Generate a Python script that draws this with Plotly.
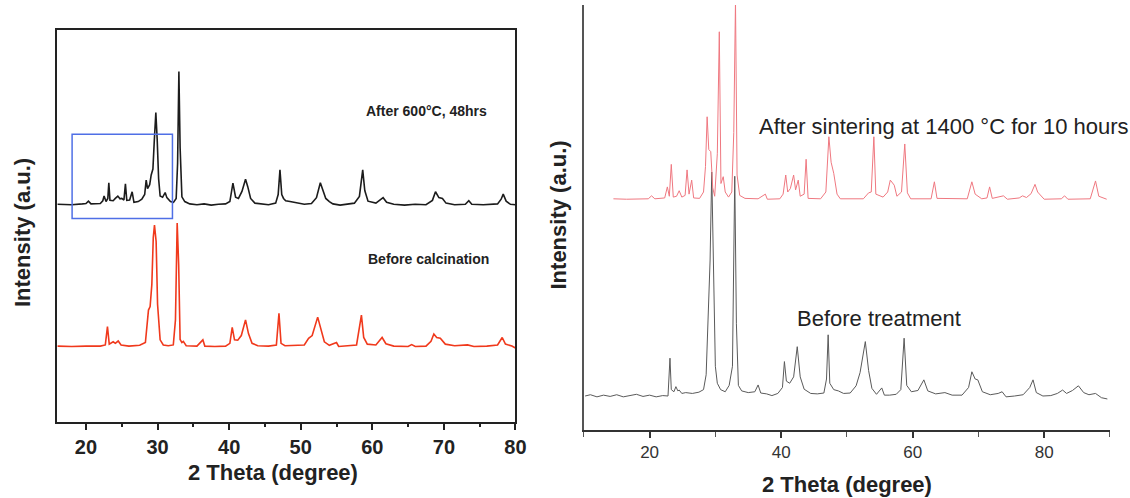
import plotly.graph_objects as go

# ---------------- Left panel: After 600 °C, 48 hrs (black) ----------------
left_black_x = [16.0, 18.0, 19.5, 20.0, 20.34, 20.7, 22.0, 22.35, 22.53, 22.8, 23.05, 23.19, 23.35, 23.8, 24.1,
                24.45, 24.75, 25.0, 25.3, 25.51, 25.7, 26.1, 26.45, 26.7, 27.3, 27.8, 28.2, 28.41, 28.6, 28.9,
                29.11, 29.35, 29.55, 29.76, 29.95, 30.15, 30.36, 30.7, 31.06, 31.3, 31.8, 32.22, 32.6, 32.8,
                32.98, 33.15, 33.4, 33.8, 34.5, 35.5, 36.5, 37.5, 38.5, 39.5, 40.1, 40.53, 40.9, 41.3, 41.79,
                42.29, 42.6, 43.0, 43.6, 44.5, 45.5, 46.5, 46.85, 47.1, 47.35, 47.6, 47.9, 48.5, 49.5, 50.5,
                51.5, 52.2, 52.74, 53.1, 53.5, 54.0, 54.5, 55.5, 56.5, 57.5, 58.2, 58.66, 58.95, 59.4, 60.5,
                61.1, 61.51, 62.0, 63.0, 64.5, 66.0, 67.5, 68.4, 68.83, 69.3, 69.8, 70.3, 71.5, 73.0, 73.48,
                73.9, 75.5, 77.5, 78.0, 78.29, 78.7, 79.3, 80.0]
left_black_y = [55.5, 55.4, 55.6, 55.7, 56.3, 55.6, 55.7, 56.4, 57.6, 56.2, 57.0, 61.0, 56.5, 56.4, 57.0,
                57.6, 56.9, 57.0, 56.6, 60.7, 56.5, 56.6, 58.7, 56.0, 56.2, 56.8, 58.0, 61.7, 59.5, 60.5,
                63.0, 64.5, 72.0, 78.9, 72.0, 62.0, 57.6, 57.3, 58.5, 57.2, 56.2, 56.0, 57.0, 66.0,
                89.4, 70.0, 57.4, 56.2, 55.6, 55.4, 55.6, 55.3, 55.5, 55.6, 56.2, 60.9, 57.3, 57.0, 58.8,
                61.9, 60.0, 57.0, 55.8, 55.6, 55.4, 55.8, 58.0, 64.3, 58.0, 57.0, 56.4, 56.2, 55.8, 55.5,
                55.7, 57.2, 61.0, 59.2, 57.0, 56.2, 55.6, 55.3, 55.5, 55.8, 57.5, 64.3, 59.0, 56.3, 55.8,
                56.6, 57.2, 56.0, 55.5, 55.3, 55.5, 55.4, 56.5, 58.7, 57.2, 57.0, 55.8, 55.4, 55.5, 56.4,
                55.5, 55.4, 55.6, 56.8, 58.1, 56.3, 55.5, 55.4]

# ---------------- Left panel: Before calcination (red) ----------------
left_red_x = [16.0, 18.0, 20.0, 22.0, 22.7, 23.0, 23.25, 23.8, 24.1, 24.5, 24.9, 26.0, 27.5, 28.3, 28.73,
              28.96, 29.2, 29.4, 29.57, 29.8, 30.0, 30.36, 30.8, 31.5, 32.2, 32.5, 32.74, 32.95, 33.15,
              33.4, 33.6, 34.0, 35.5, 36.33, 36.6, 38.0, 39.5, 40.1, 40.43, 40.75, 41.2, 41.7, 42.29, 42.7,
              43.2, 44.0, 45.5, 46.6, 46.96, 47.25, 47.8, 49.0, 50.5, 51.1, 51.6, 52.37, 52.8, 53.3, 54.0,
              55.0, 55.3, 56.5, 57.8, 58.48, 58.8, 59.3, 60.5, 61.37, 61.9, 63.0, 65.0, 65.5, 66.0, 67.5,
              68.2, 68.6, 69.0, 69.5, 70.2, 71.5, 73.3, 74.2, 76.0, 77.5, 78.15, 78.6, 79.5, 80.0]
left_red_y = [19.3, 19.2, 19.3, 19.3, 19.6, 24.3, 19.8, 20.4, 20.0, 20.6, 19.6, 19.3, 19.5, 20.2, 28.5,
              29.4, 35.0, 47.0, 50.2, 46.0, 30.0, 20.9, 19.6, 19.4, 19.6, 26.0, 50.7, 40.0, 21.0,
              20.2, 20.5, 19.4, 19.3, 20.9, 19.3, 19.2, 19.3, 20.0, 24.1, 20.9, 20.8, 22.0, 26.0, 22.5,
              20.0, 19.4, 19.3, 19.6, 27.7, 20.0, 19.4, 19.5, 19.6, 21.3, 22.0, 26.7, 23.5, 20.4, 19.5,
              20.2, 19.2, 19.3, 19.6, 27.2, 21.5, 19.8, 19.6, 21.5, 19.9, 19.3, 19.2, 19.7, 19.2, 19.3,
              20.5, 22.4, 21.5, 21.3, 19.8, 19.4, 19.6, 19.2, 19.3, 19.6, 21.5, 19.8, 19.3, 18.8]

# ---------------- Right panel: After sintering (red) ----------------
right_red_x = [14.5, 16.5, 19.8, 20.3, 20.8, 22.3, 22.7, 23.0, 23.3, 23.6, 24.1, 24.5, 24.9, 25.4, 25.7,
               26.0, 26.4, 26.7, 27.6, 28.2, 28.5, 28.75, 29.0, 29.3, 29.6, 29.9, 30.3, 30.6, 30.85, 31.2,
               31.5, 32.0, 32.5, 32.8, 33.06, 33.3, 33.7, 34.5, 36.5, 37.6, 37.9, 39.8, 40.3, 40.7, 41.0,
               41.4, 41.9, 42.2, 42.6, 42.9, 43.5, 43.8, 44.1, 46.0, 46.8, 47.26, 47.6, 48.0, 48.5, 49.0,
               52.5, 53.3, 53.7, 54.1, 54.4, 55.5, 56.2, 56.6, 57.2, 57.6, 58.3, 58.8, 59.2, 59.7, 62.8,
               63.3, 63.7, 68.3, 69.0, 69.5, 70.5, 71.3, 71.7, 72.1, 73.8, 74.4, 76.2, 76.7, 77.3, 78.0,
               78.6, 79.0, 79.4, 80.0, 82.6, 83.1, 83.6, 87.0, 87.8, 88.3, 89.5]
right_red_y = [54.4, 54.3, 54.4, 55.1, 54.4, 54.6, 57.2, 55.0, 62.5, 54.8, 55.0, 56.3, 54.8, 55.2, 61.2,
               55.5, 58.8, 54.6, 54.5, 56.0, 62.0, 73.7, 66.0, 65.5, 57.0, 55.0, 65.0, 93.7, 58.0, 59.6,
               56.0, 54.8, 56.0, 70.0, 101.0, 60.0, 55.2, 54.5, 54.4, 55.5, 54.3, 54.4, 55.5, 60.0, 56.0,
               56.8, 60.0, 56.5, 58.8, 55.0, 55.5, 63.7, 54.5, 54.4, 56.0, 69.0, 63.0, 60.4, 55.5, 54.4,
               54.4, 55.8, 56.0, 69.0, 55.5, 54.8, 56.0, 58.8, 57.6, 55.0, 56.0, 67.3, 55.8, 54.4, 54.4,
               58.4, 54.5, 54.4, 58.4, 55.5, 54.4, 54.6, 57.2, 54.5, 55.1, 54.3, 54.6, 55.1, 54.7, 55.6,
               57.8, 56.0, 55.3, 54.3, 54.4, 55.1, 54.3, 54.4, 58.6, 55.0, 54.3]

# ---------------- Right panel: Before treatment (black) ----------------
right_black_x = [10.2, 11.0, 12.0, 13.0, 14.0, 15.0, 16.0, 17.0, 18.0, 19.0, 20.0, 21.0, 22.0, 22.8, 23.1,
                 23.3, 23.7, 24.0, 24.3, 24.5, 24.9, 25.5, 26.5, 27.5, 28.2, 28.6, 28.9, 29.2, 29.45, 29.7,
                 30.0, 30.3, 30.8, 31.5, 32.1, 32.6, 32.95, 33.2, 33.5, 34.0, 35.0, 36.0, 36.5, 36.9, 37.8,
                 38.6, 39.5, 40.2, 40.5, 40.8, 41.3, 41.9, 42.45, 42.9, 43.5, 44.5, 45.5, 46.5, 46.9, 47.15,
                 47.4, 48.0, 48.7, 49.5, 50.5, 51.4, 52.0, 52.8, 53.3, 53.8, 54.5, 55.3, 55.7, 56.5, 57.5,
                 58.2, 58.7, 59.1, 59.8, 60.8, 61.7, 62.3, 63.5, 64.9, 66.0, 67.5, 68.5, 69.0, 69.5, 69.9,
                 70.6, 71.8, 73.0, 73.6, 74.2, 75.5, 76.8, 77.8, 78.3, 78.8, 79.8, 81.0, 82.0, 82.8, 83.4,
                 84.3, 85.2, 86.0, 86.8, 87.8, 88.7, 89.6]
right_black_y = [8.0, 8.3, 7.8, 8.2, 7.9, 8.3, 7.8, 8.1, 8.4, 7.9, 8.2, 7.8, 8.1, 8.0, 16.9,
                 9.5, 9.0, 10.2, 9.2, 9.4, 8.6, 8.8, 8.6, 8.9, 9.5, 13.0, 25.1, 40.0, 60.7, 40.0,
                 15.0, 11.0, 9.5, 9.0, 10.5, 15.0, 59.7, 25.0, 10.5, 9.2, 8.8, 9.0, 10.6, 8.7, 8.5,
                 8.1, 8.6, 10.0, 16.1, 11.5, 11.0, 12.5, 19.6, 12.5, 9.6, 8.6, 8.5, 8.7, 12.0, 22.4,
                 11.0, 9.5, 9.2, 8.6, 8.7, 10.4, 13.5, 20.8, 14.0, 9.8, 8.4, 9.9, 8.2, 8.2, 8.4,
                 9.5, 21.6, 10.5, 9.0, 9.3, 11.8, 9.2, 8.5, 8.8, 8.2, 8.2, 10.0, 13.7, 12.0, 11.8,
                 9.0, 8.3, 8.6, 9.0, 7.8, 8.0, 8.3, 10.0, 11.8, 8.8, 8.0, 8.1, 8.6, 9.4, 8.6,
                 9.3, 10.4, 8.8, 8.3, 8.6, 7.6, 7.3]

# highlighted region on the left panel (2θ range, intensity range)
highlight_x = [18.06, 32.08]
highlight_y = [51.9, 73.4]

left_ticks = [20, 30, 40, 50, 60, 70, 80]
right_ticks = [20, 40, 60, 80]

W, H = 1130, 498          # reference picture size (px)
FIG_W = 1142              # css width of the figure
L_DOM_X = [57.3 / W, 515.0 / W]
L_DOM_Y = [1 - 421.7 / H, 1 - 30.0 / H]
R_DOM_X = [583.3 / W, 1109.0 / W]
R_DOM_Y = [1 - 430.0 / H, 1 - 5.0 / H]

fig = go.Figure()
fig.add_trace(go.Scatter(x=left_black_x, y=left_black_y, mode="lines",
                         line=dict(color="#1c1c1c", width=1.6), xaxis="x", yaxis="y",
                         name="After 600°C, 48hrs"))
fig.add_trace(go.Scatter(x=left_red_x, y=left_red_y, mode="lines",
                         line=dict(color="#f0391c", width=1.6), xaxis="x", yaxis="y",
                         name="Before calcination"))
fig.add_trace(go.Scatter(x=right_black_x, y=right_black_y, mode="lines",
                         line=dict(color="#5a5a5a", width=1), xaxis="x2", yaxis="y2",
                         name="Before treatment"))
fig.add_trace(go.Scatter(x=right_red_x, y=right_red_y, mode="lines",
                         line=dict(color="#ef7880", width=1), xaxis="x2", yaxis="y2",
                         name="After sintering at 1400 °C for 10 hours"))

fig.add_shape(type="rect", xref="x", yref="y",
              x0=highlight_x[0], x1=highlight_x[1], y0=highlight_y[0], y1=highlight_y[1],
              line=dict(color="#4f6fe6", width=1.5), fillcolor="rgba(0,0,0,0)")

bold = dict(family="Arial, Liberation Sans, sans-serif", color="#222", weight="bold")
reg = dict(family="Arial, Liberation Sans, sans-serif", color="#222")

fig.update_layout(
    width=FIG_W, height=H, margin=dict(l=0, r=0, t=0, b=0),
    paper_bgcolor="white", plot_bgcolor="white", showlegend=False,
    xaxis=dict(domain=L_DOM_X, anchor="y", range=[16, 80], showgrid=False, zeroline=False,
               showline=True, linecolor="#222", linewidth=2, mirror=True,
               ticks="outside", ticklen=6, tickwidth=2, tickcolor="#222",
               tickvals=left_ticks, ticktext=[str(t) for t in left_ticks],
               minor=dict(dtick=5, tick0=0, ticks="outside", ticklen=3, tickwidth=2, tickcolor="#222"),
               tickfont=dict(size=20, **bold)),
    yaxis=dict(domain=L_DOM_Y, anchor="x", range=[0, 100], showgrid=False, zeroline=False,
               showline=True, linecolor="#222", linewidth=2, mirror=True,
               ticks="", showticklabels=False),
    xaxis2=dict(domain=R_DOM_X, anchor="y2", range=[10, 90], showgrid=False, zeroline=False,
                showline=True, linecolor="#333", linewidth=1.5,
                ticks="outside", ticklen=6, tickwidth=1.5, tickcolor="#333",
                tickvals=right_ticks, ticktext=[str(t) for t in right_ticks],
                minor=dict(dtick=10, tick0=0, ticks="outside", ticklen=5, tickwidth=1.2, tickcolor="#555"),
                tickfont=dict(size=17, family="Arial, Liberation Sans, sans-serif", color="#333")),
    yaxis2=dict(domain=R_DOM_Y, anchor="x2", range=[0, 100], showgrid=False, zeroline=False,
                showline=True, linecolor="#555", linewidth=1.5, ticks="", showticklabels=False),
)

ann = [
    dict(text="Intensity (a.u.)", x=22 / W, y=1 - 233 / H, textangle=-90, font=dict(size=22, **bold)),
    dict(text="2 Theta (degree)", x=273 / W, y=1 - 472 / H, font=dict(size=22, **bold)),
    dict(text="After 600°C, 48hrs", x=426 / W, y=1 - 111 / H, font=dict(size=14, **bold)),
    dict(text="Before calcination", x=428 / W, y=1 - 259 / H, font=dict(size=14, **bold)),
    dict(text="Intensity (a.u.)", x=558 / W, y=1 - 215 / H, textangle=-90, font=dict(size=22, **bold)),
    dict(text="2 Theta (degree)", x=846 / W, y=1 - 484 / H, font=dict(size=22, **bold)),
    dict(text="After sintering at 1400 °C for 10 hours", x=943 / W, y=1 - 126 / H, font=dict(size=22, **reg)),
    dict(text="Before treatment", x=878 / W, y=1 - 318 / H, font=dict(size=22, **reg)),
]
for a in ann:
    a.update(xref="paper", yref="paper", showarrow=False, xanchor="center", yanchor="middle")
    fig.add_annotation(**a)

fig.write_html("out.html", config={"displayModeBar": False},
               post_script="document.body.style.margin='0';document.body.style.overflow='hidden';")
